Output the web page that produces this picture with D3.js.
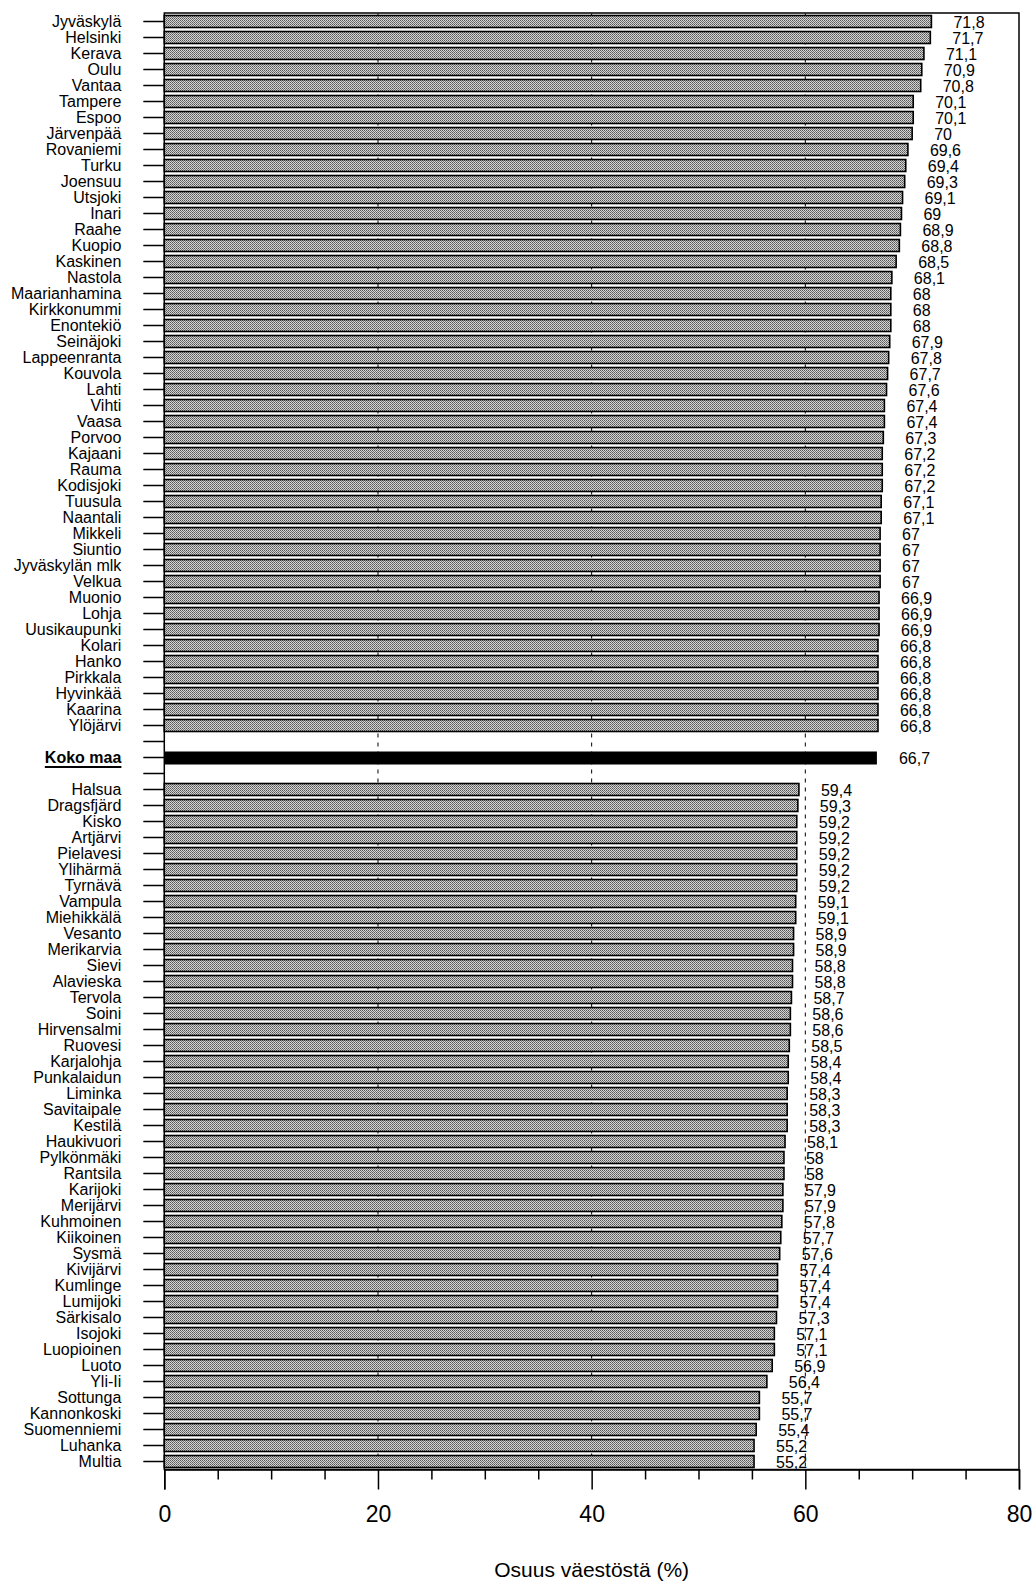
<!DOCTYPE html>
<html lang="fi">
  <head>
    <meta charset="utf-8"/>
    <title>Osuus väestöstä</title>
    <script src="https://cdn.jsdelivr.net/npm/d3@7"></script>
    <style>
     body { margin: 0; background: #fff; }
     svg { display: block; font-family: "Liberation Sans", Arial, sans-serif; }
    </style>
  </head>
  <body>
    <script>
     // data ------------------------------------------------------------------
     const topNames = ["Jyväskylä", "Helsinki", "Kerava", "Oulu", "Vantaa", "Tampere", "Espoo",
       "Järvenpää", "Rovaniemi", "Turku", "Joensuu", "Utsjoki", "Inari", "Raahe", "Kuopio",
       "Kaskinen", "Nastola", "Maarianhamina", "Kirkkonummi", "Enontekiö", "Seinäjoki",
       "Lappeenranta", "Kouvola", "Lahti", "Vihti", "Vaasa", "Porvoo", "Kajaani", "Rauma",
       "Kodisjoki", "Tuusula", "Naantali", "Mikkeli", "Siuntio", "Jyväskylän mlk", "Velkua",
       "Muonio", "Lohja", "Uusikaupunki", "Kolari", "Hanko", "Pirkkala", "Hyvinkää", "Kaarina",
       "Ylöjärvi"];
     const topValues = [71.8, 71.7, 71.1, 70.9, 70.8, 70.1, 70.1, 70, 69.6, 69.4, 69.3, 69.1, 69,
       68.9, 68.8, 68.5, 68.1, 68, 68, 68, 67.9, 67.8, 67.7, 67.6, 67.4, 67.4, 67.3, 67.2, 67.2,
       67.2, 67.1, 67.1, 67, 67, 67, 67, 66.9, 66.9, 66.9, 66.8, 66.8, 66.8, 66.8, 66.8, 66.8];

     const totalName = "Koko maa";
     const totalValue = 66.7;

     const bottomNames = ["Halsua", "Dragsfjärd", "Kisko", "Artjärvi", "Pielavesi", "Ylihärmä",
       "Tyrnävä", "Vampula", "Miehikkälä", "Vesanto", "Merikarvia", "Sievi", "Alavieska",
       "Tervola", "Soini", "Hirvensalmi", "Ruovesi", "Karjalohja", "Punkalaidun", "Liminka",
       "Savitaipale", "Kestilä", "Haukivuori", "Pylkönmäki", "Rantsila", "Karijoki", "Merijärvi",
       "Kuhmoinen", "Kiikoinen", "Sysmä", "Kivijärvi", "Kumlinge", "Lumijoki", "Särkisalo",
       "Isojoki", "Luopioinen", "Luoto", "Yli-Ii", "Sottunga", "Kannonkoski", "Suomenniemi",
       "Luhanka", "Multia"];
     const bottomValues = [59.4, 59.3, 59.2, 59.2, 59.2, 59.2, 59.2, 59.1, 59.1, 58.9, 58.9, 58.8,
       58.8, 58.7, 58.6, 58.6, 58.5, 58.4, 58.4, 58.3, 58.3, 58.3, 58.1, 58, 58, 57.9, 57.9, 57.8,
       57.7, 57.6, 57.4, 57.4, 57.4, 57.3, 57.1, 57.1, 56.9, 56.4, 55.7, 55.7, 55.4, 55.2, 55.2];

     const majorTicks = [0, 20, 40, 60, 80];
     const minorTicks = [5, 10, 15, 25, 30, 35, 45, 50, 55, 65, 70, 75];
     const gridTicks = [20, 40, 60];
     const xTitle = "Osuus väestöstä (%)";

     // rows: top group, blank, total, blank, bottom group ----------------------
     const rows = topNames.concat(["_gap1", totalName, "_gap2"], bottomNames);
     const bars = topNames.map((n, i) => ({name: n, value: topValues[i]}))
       .concat(bottomNames.map((n, i) => ({name: n, value: bottomValues[i]})));

     const W = 1036, H = 1590;
     const plotL = 164.3, plotR = 1019, plotT = 13.5, plotB = 1469.5;

     const svg = d3.select("body").append("svg").attr("width", W).attr("height", H);

     const x = d3.scaleLinear().domain([0, 80]).range([plotL, plotR]);
     const y = d3.scaleBand().domain(rows).range([plotT, plotB])
                 .paddingInner(0.25).paddingOuter(0.125);

     // dotted fill pattern for the bars
     const pat = svg.append("defs").append("pattern")
                    .attr("id", "dots").attr("patternUnits", "userSpaceOnUse")
                    .attr("width", 2).attr("height", 2);
     pat.append("rect").attr("width", 2).attr("height", 2).attr("fill", "#d4d4d4");
     pat.append("rect").attr("width", 1).attr("height", 1).attr("fill", "#555");
     pat.append("rect").attr("x", 1).attr("y", 1).attr("width", 1).attr("height", 1).attr("fill", "#777");

     // dashed grid lines (behind bars)
     svg.append("g").selectAll("line")
        .data(gridTicks).enter().append("line")
        .attr("x1", d => x(d)).attr("x2", d => x(d))
        .attr("y1", plotT).attr("y2", plotB)
        .attr("stroke", "#000").attr("stroke-width", 1)
        .attr("stroke-dasharray", "4,5");

     // frame
     svg.append("rect")
        .attr("x", plotL).attr("y", plotT - 0.5)
        .attr("width", plotR - plotL).attr("height", plotB - plotT + 0.5)
        .attr("fill", "none").attr("stroke", "#000").attr("stroke-width", 1.5);

     // bars
     svg.append("g").selectAll("rect")
        .data(bars).enter().append("rect")
        .attr("x", x(0))
        .attr("y", d => y(d.name))
        .attr("width", d => x(d.value) - x(0))
        .attr("height", y.bandwidth())
        .attr("fill", "url(#dots)")
        .attr("stroke", "#000").attr("stroke-width", 1.6);

     // total bar
     svg.append("rect")
        .attr("x", x(0)).attr("y", y(totalName))
        .attr("width", x(totalValue) - x(0))
        .attr("height", y.bandwidth() + 1)
        .attr("fill", "#000");

     // value labels
     const fmt = v => String(v).replace(".", ",");
     svg.append("g").selectAll("text")
        .data(bars.concat([{name: totalName, value: totalValue}])).enter().append("text")
        .attr("x", d => x(d.value) + 22)
        .attr("y", d => y(d.name) + y.bandwidth() / 2 + 6.5)
        .attr("font-size", "16px")
        .text(d => fmt(d.value));

     // left axis with category labels
     const yAxis = svg.append("g")
        .attr("transform", `translate(${plotL},0)`)
        .call(d3.axisLeft(y).tickSize(21).tickPadding(22)
                .tickFormat(d => d.startsWith("_gap") ? "" : d));
     yAxis.select(".domain").remove();
     yAxis.selectAll(".tick line").attr("stroke-width", 1.5);
     yAxis.selectAll(".tick text")
          .attr("font-size", "16px").attr("fill", "#000")
          .attr("dy", "0.34em")
          .attr("font-family", "'Liberation Sans', Arial, sans-serif");
     const totalTick = yAxis.selectAll(".tick text").filter(d => d === totalName)
          .attr("font-weight", "bold");
     const bb = totalTick.node().getBBox();
     const tickG = totalTick.node().parentNode;
     d3.select(tickG).append("line")
       .attr("x1", bb.x).attr("x2", bb.x + bb.width)
       .attr("y1", bb.y + bb.height + 1).attr("y2", bb.y + bb.height + 1)
       .attr("stroke", "#000").attr("stroke-width", 2);

     // bottom axis
     const xAxis = svg.append("g")
        .attr("transform", `translate(0,${plotB})`)
        .call(d3.axisBottom(x).tickValues(majorTicks).tickSize(20).tickPadding(16));
     xAxis.select(".domain").attr("stroke-width", 1.5);
     xAxis.selectAll(".tick line").attr("stroke-width", 1.5);
     xAxis.selectAll(".tick text")
          .attr("font-size", "23px").attr("fill", "#000")
          .attr("font-family", "'Liberation Sans', Arial, sans-serif");

     const xMinor = svg.append("g")
        .attr("transform", `translate(0,${plotB})`)
        .call(d3.axisBottom(x).tickValues(minorTicks).tickSize(10).tickFormat(""));
     xMinor.select(".domain").remove();
     xMinor.selectAll(".tick line").attr("stroke-width", 1.5);

     // axis title
     svg.append("text")
        .attr("x", (plotL + plotR) / 2).attr("y", 1577)
        .attr("text-anchor", "middle")
        .attr("font-size", "21px")
        .text(xTitle);
    </script>
  </body>
</html>
